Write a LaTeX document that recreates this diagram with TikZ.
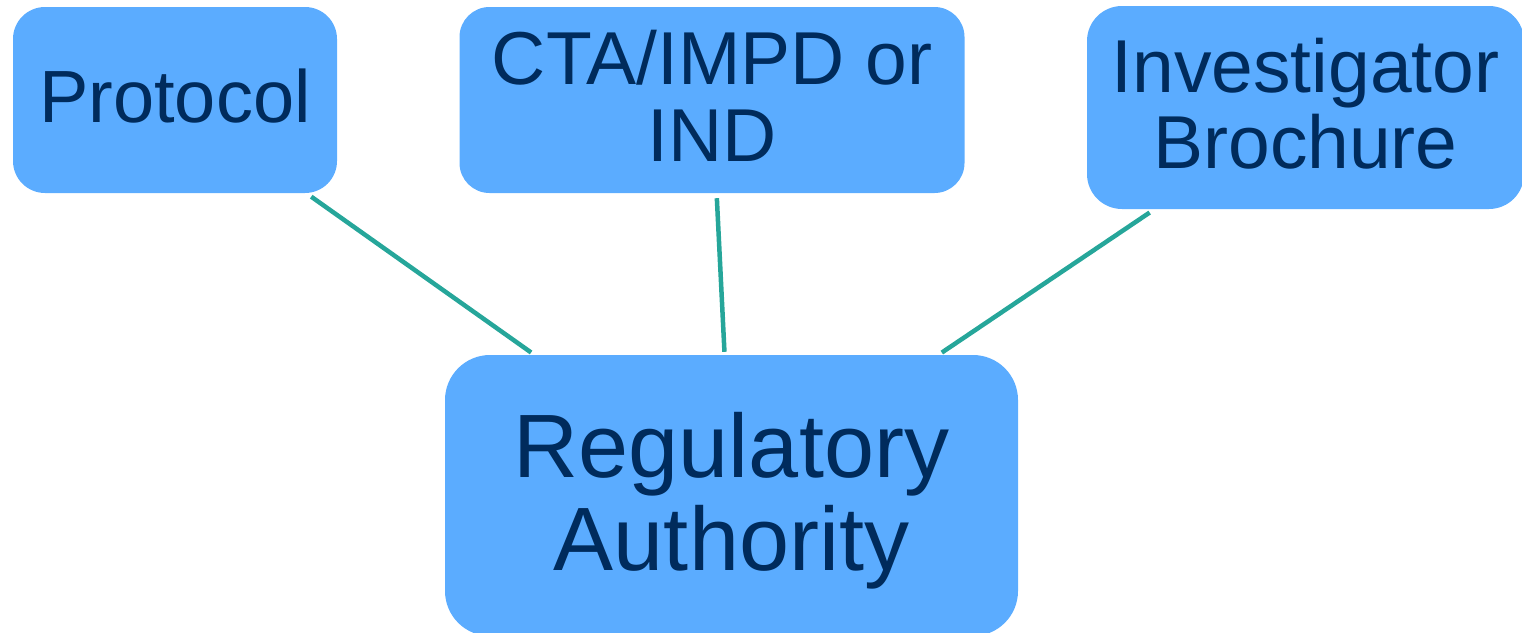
\documentclass[tikz,border=0pt]{standalone}
\usepackage{fontspec}
\setmainfont{Liberation Sans}
\definecolor{boxfill}{HTML}{5BACFF}
\definecolor{boxtext}{HTML}{002B5C}
\definecolor{linkcol}{HTML}{26A69A}
\begin{document}
\begin{tikzpicture}[x=1pt,y=-1pt,
  docbox/.style={rectangle, fill=boxfill, text=boxtext, align=center, inner sep=0pt,
    font=\fontsize{75}{77}\selectfont},
  link/.style={draw=linkcol, line width=4.5pt}]
\useasboundingbox (0,0) rectangle (1522,632);
\clip (0,0) rectangle (1522,632);
\node[docbox, minimum width=324pt, minimum height=186pt, rounded corners=32pt, text depth=8pt,
  font=\fontsize{74}{75}\selectfont]
  (proto) at (175,100) {Protocol};
\node[docbox, minimum width=505pt, minimum height=186pt, rounded corners=30pt, text depth=9pt]
  (cta) at (712,100) {CTA/IMPD or\\IND};
\node[docbox, minimum width=437pt, minimum height=203pt, rounded corners=35pt, text depth=8pt,
  font=\fontsize{75}{76}\selectfont]
  (inv) at (1305.5,107.5) {Investigator\\Brochure};
\node[docbox, minimum width=573pt, minimum height=281pt, rounded corners=45pt, text depth=9pt,
  font=\fontsize{90}{93}\selectfont]
  (reg) at (731.5,495.5) {Regulatory\\Authority};
\draw[link, shorten <=6pt, shorten >=4pt] (proto) -- (reg);
\draw[link, shorten <=5pt, shorten >=3pt] (cta) -- (reg);
\draw[link, shorten <=6pt, shorten >=4pt] (inv) -- (reg);
\end{tikzpicture}
\end{document}
